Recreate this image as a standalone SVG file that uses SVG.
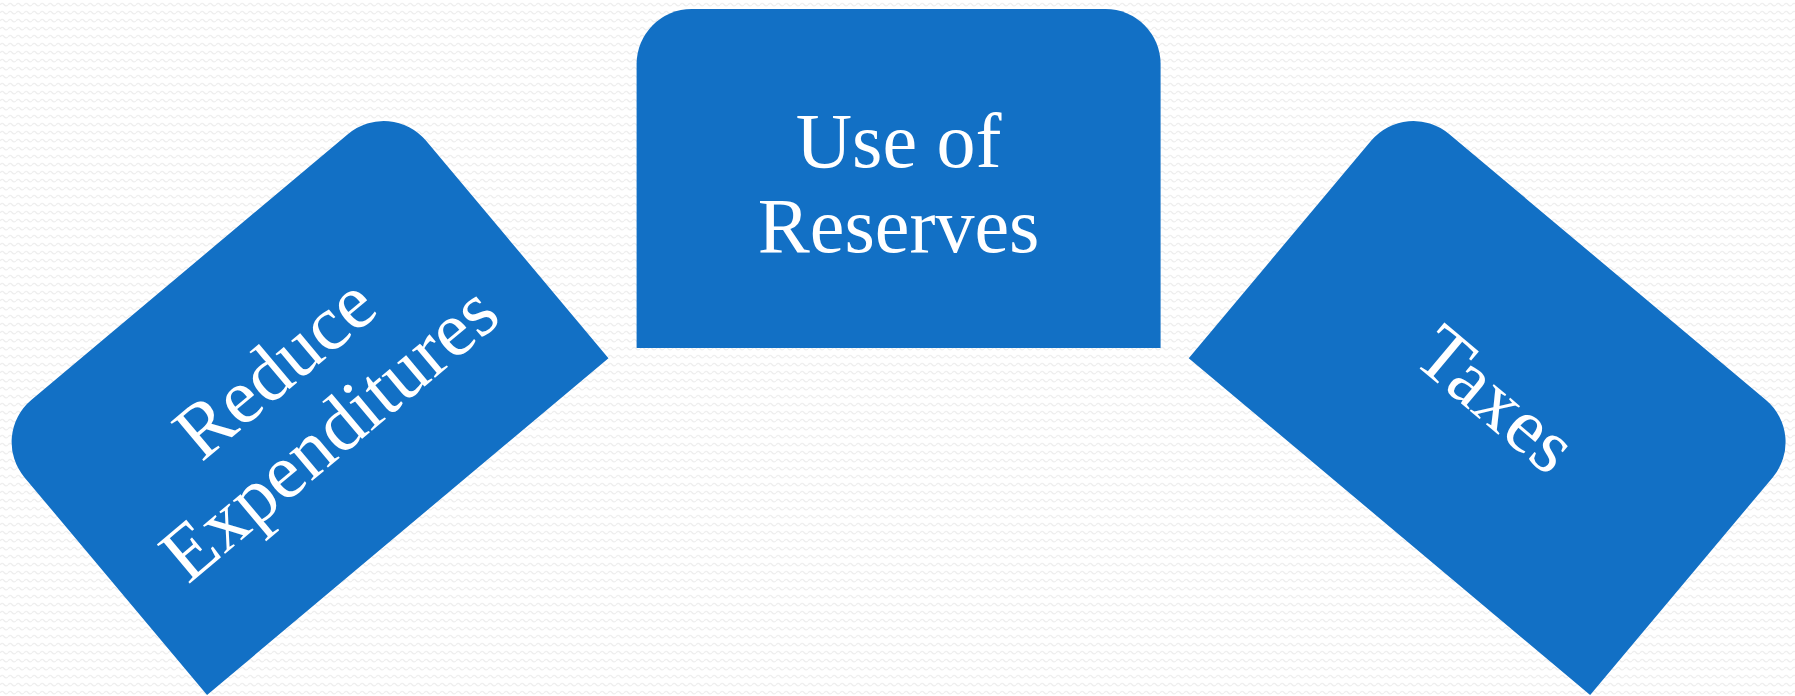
<svg xmlns="http://www.w3.org/2000/svg" width="1795" height="696" viewBox="0 0 1795 696">
  <defs>
    <style>
      .card { fill: #1270C5; }
      .label { font-family: "Liberation Serif", "DejaVu Serif", serif; font-size: 78px; fill: #ffffff; text-anchor: middle; }
    </style>
    <!-- faint zigzag paper texture -->
    <pattern id="zigzag" width="8" height="8" patternUnits="userSpaceOnUse">
      <path d="M0,5 Q2,2 4,4.5 T8,5" fill="none" stroke="#efefef" stroke-width="1.3"/>
    </pattern>
    <!-- card: 524 x 339, rounded top corners, centred on its origin -->
    <path id="card-shape" d="M -262,169.5 L -262,-114.5 A 55 55 0 0 1 -207,-169.5 L 207,-169.5 A 55 55 0 0 1 262,-114.5 L 262,169.5 Z"/>
  </defs>

  <rect width="1795" height="696" fill="#ffffff"/>
  <rect width="1795" height="696" fill="url(#zigzag)"/>

  <g id="connectors"/>

  <g id="node-reduce-expenditures" transform="translate(298.8,396.7) rotate(-40)">
    <use href="#card-shape" class="card"/>
    <text class="label" x="0" y="-12">Reduce</text>
    <text class="label" x="0" y="73">Expenditures</text>
  </g>

  <g id="node-use-of-reserves" transform="translate(898.6,178.6)">
    <use href="#card-shape" class="card"/>
    <text class="label" x="0" y="-12">Use of</text>
    <text class="label" x="0" y="73">Reserves</text>
  </g>

  <g id="node-taxes" transform="translate(1498.4,396.7) rotate(40)">
    <use href="#card-shape" class="card"/>
    <text class="label" x="0" y="29">Taxes</text>
  </g>
</svg>
